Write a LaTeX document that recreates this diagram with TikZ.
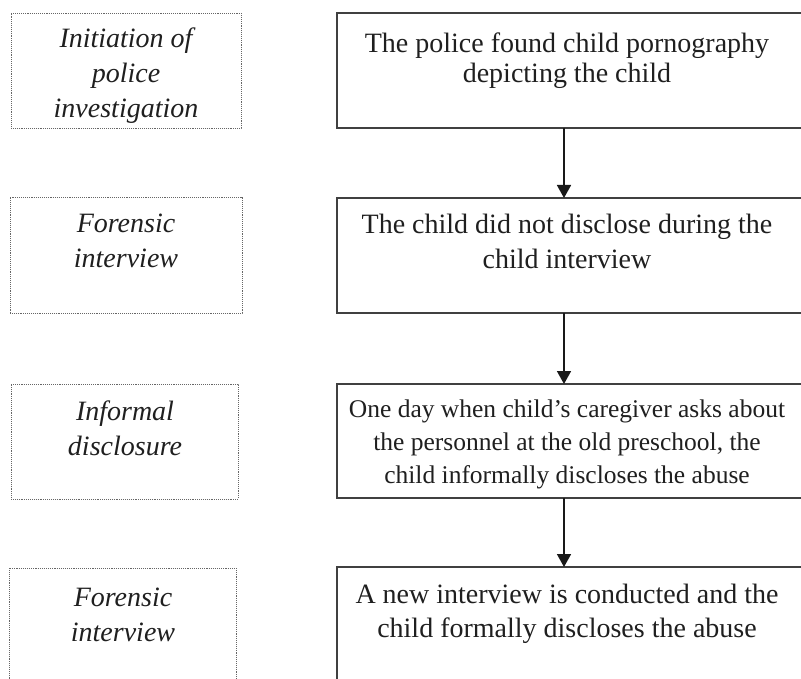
\documentclass[tikz,border=0pt]{standalone}
\usepackage{fontspec}
\setmainfont{Liberation Serif}
\usetikzlibrary{arrows.meta}
\begin{document}
\begin{tikzpicture}[x=1pt,y=-1pt,
  rbox/.style={draw=black!75, line width=1.3pt, rectangle, inner sep=0pt, outer sep=0pt, anchor=north west},
  lbox/.style={draw=black!60, densely dotted, line width=0.9pt, rectangle, inner sep=0pt, outer sep=0pt, anchor=north west},
  rtext/.style={anchor=north, inner sep=0pt, align=center, text=black!88, font=\fontsize{28}{#1}\selectfont},
  rtext/.default=33,
  ltext/.style={anchor=north, inner sep=0pt, align=center, text=black!88, font=\fontsize{28}{35}\selectfont\itshape},
  arr/.style={draw=black!90, line width=1.7pt, -{Triangle[width=14pt,length=13pt]}}
]
\useasboundingbox (0,0) rectangle (801,679);
\clip (0,0) rectangle (801,679);

% left (dotted) boxes
\node[lbox, minimum width=230pt, minimum height=115pt] (l1) at (11,13) {};
\node[lbox, minimum width=232pt, minimum height=116pt] (l2) at (10,197) {};
\node[lbox, minimum width=227pt, minimum height=115pt] (l3) at (11,384) {};
\node[lbox, minimum width=227pt, minimum height=150pt] (l4) at (9,568) {};

% right boxes
\node[rbox, minimum width=470pt, minimum height=115pt] (r1) at (337,13) {};
\node[rbox, minimum width=470pt, minimum height=115pt] (r2) at (337,198) {};
\node[rbox, minimum width=470pt, minimum height=114pt] (r3) at (337,384) {};
\node[rbox, minimum width=470pt, minimum height=150pt] (r4) at (337,567) {};

% left texts
\node[ltext] (lt1) at (126,28) {Initiation of\\police\\investigation};
\node[ltext] (lt2) at (126,214) {Forensic\\interview};
\node[ltext] (lt3) at (125,401) {Informal\\disclosure};
\node[ltext] (lt4) at (123,588) {Forensic\\interview};

% right texts
\node[rtext=30] (rt1) at (567,33) {The police found child pornography\\depicting the child};
\node[rtext=35] (rt2) at (567,214) {The child did not disclose during the\\child interview};
\node[rtext=33, font=\fontsize{25.5}{33}\selectfont] (rt3) at (567,400) {One day when child’s caregiver asks about\\the personnel at the old preschool, the\\child informally discloses the abuse};
\node[rtext=34] (rt4) at (567,584) {A new interview is conducted and the\\child formally discloses the abuse};

% arrows
\coordinate (ax) at (564,0);
\draw[arr] (r1.south -| ax) -- (r2.north -| ax);
\draw[arr] (r2.south -| ax) -- (r3.north -| ax);
\draw[arr] (r3.south -| ax) -- (r4.north -| ax);
\end{tikzpicture}
\end{document}
